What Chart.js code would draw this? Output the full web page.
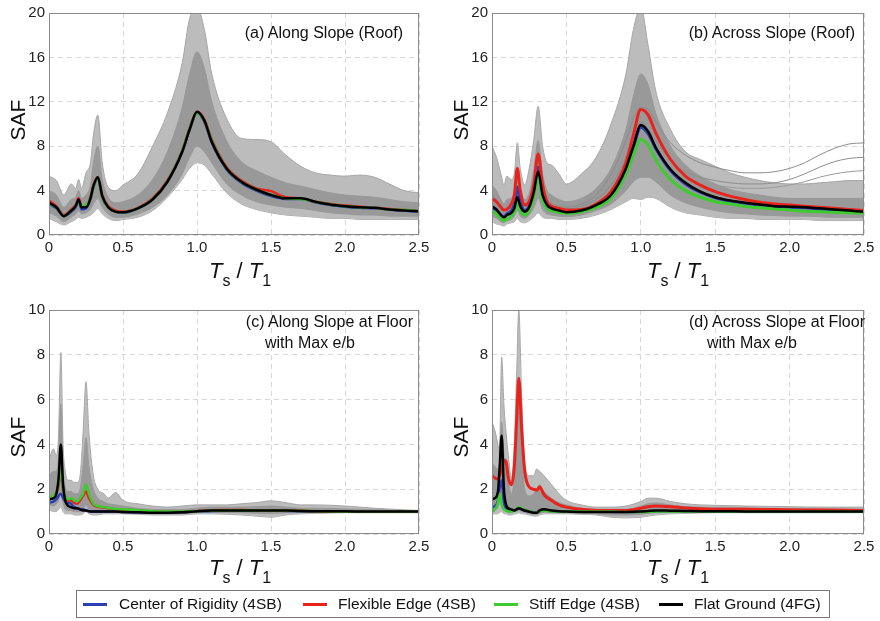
<!DOCTYPE html>
<html>
<head>
<meta charset="utf-8">
<script src="https://cdn.jsdelivr.net/npm/chart.js@4.4.1/dist/chart.umd.min.js"></script>
<style>
body {margin: 0; background: #fff; width: 880px; height: 621px; position: relative; overflow: hidden; font-family: "Liberation Sans", Arial, sans-serif;}
canvas {position: absolute;}
.lbl {position: absolute; color: #111; white-space: nowrap; font-size: 16px; line-height: 18px;}
.saf {position: absolute; font-size: 21px; transform: rotate(-90deg); transform-origin: center; width: 60px; text-align: center; line-height: 24px; color: #111;}
.xt {position: absolute; font-size: 22px; width: 120px; text-align: center; line-height: 24px; color: #111;}
.xt i {font-style: italic;}
.xt sub {font-size: 16px; vertical-align: -8px; line-height: 0;}
#legend {position: absolute; left: 76px; top: 590px; width: 752px; height: 26px; border: 1px solid #777; font-size: 15.5px; color: #111;}
#legend .sw {position: absolute; top: 12px; height: 3px; width: 24px;}
#legend .tx {position: absolute; top: 4px; white-space: nowrap;}
</style>
</head>
<body>

<canvas id="panelA" width="440" height="262" style="left:0;top:0"></canvas>
<canvas id="panelB" width="440" height="262" style="left:440px;top:0"></canvas>
<canvas id="panelC" width="440" height="264" style="left:0;top:297px"></canvas>
<canvas id="panelD" width="440" height="264" style="left:440px;top:297px"></canvas>

<div class="lbl" style="right:477px;top:24px">(a) Along Slope (Roof)</div>
<div class="lbl" style="right:25px;top:24px">(b) Across Slope (Roof)</div>
<div class="lbl" style="right:467px;top:313px">(c) Along Slope at Floor</div>
<div class="lbl" style="left:265px;top:334px">with Max e/b</div>
<div class="lbl" style="right:15px;top:313px">(d) Across Slope at Floor</div>
<div class="lbl" style="left:707px;top:334px">with Max e/b</div>

<div class="saf" style="left:-12px;top:108px">SAF</div>
<div class="saf" style="left:431px;top:108px">SAF</div>
<div class="saf" style="left:-12px;top:425px">SAF</div>
<div class="saf" style="left:431px;top:425px">SAF</div>

<div class="xt" style="left:180px;top:259px"><i>T</i><sub>s</sub> / <i>T</i><sub>1</sub></div>
<div class="xt" style="left:618px;top:259px"><i>T</i><sub>s</sub> / <i>T</i><sub>1</sub></div>
<div class="xt" style="left:180px;top:556px"><i>T</i><sub>s</sub> / <i>T</i><sub>1</sub></div>
<div class="xt" style="left:618px;top:556px"><i>T</i><sub>s</sub> / <i>T</i><sub>1</sub></div>

<div id="legend">
	<div class="sw" style="left:6px;background:#2b3fb5"></div><div class="tx" style="left:42px">Center of Rigidity (4SB)</div>
	<div class="sw" style="left:226px;background:#e8231c"></div><div class="tx" style="left:261px">Flexible Edge (4SB)</div>
	<div class="sw" style="left:417px;background:#3ccc2e"></div><div class="tx" style="left:452px">Stiff Edge (4SB)</div>
	<div class="sw" style="left:582px;background:#000"></div><div class="tx" style="left:617px">Flat Ground (4FG)</div>
</div>

<script>
// ---- (a) Along Slope (Roof) ----
var xA = [0, 0.05, 0.1, 0.15, 0.18, 0.2, 0.22, 0.25, 0.28, 0.3, 0.33, 0.36, 0.4, 0.45, 0.5, 0.6, 0.7, 0.8, 0.9, 0.95, 1.0, 1.05, 1.1, 1.2, 1.3, 1.4, 1.5, 1.6, 1.7, 1.8, 1.9, 2.0, 2.1, 2.2, 2.3, 2.4, 2.5];
var blackA = [2.9, 2.5, 1.7, 2.2, 2.6, 3.2, 2.5, 2.5, 3.3, 4.4, 5.2, 3.5, 2.5, 2.1, 2.05, 2.4, 3.2, 4.8, 7.5, 9.5, 11.1, 10.3, 8.4, 6.0, 4.8, 4.1, 3.6, 3.3, 3.3, 3.0, 2.75, 2.6, 2.5, 2.45, 2.3, 2.2, 2.15];
var redA = [3.1, 2.6, 1.8, 2.3, 2.7, 3.3, 2.6, 2.6, 3.4, 4.5, 5.2, 3.6, 2.6, 2.2, 2.1, 2.45, 3.3, 4.9, 7.6, 9.6, 11.1, 10.4, 8.6, 6.1, 4.9, 4.2, 3.95, 3.4, 3.3, 3.0, 2.8, 2.65, 2.55, 2.45, 2.35, 2.25, 2.15];
var greenA = [2.8, 2.5, 1.7, 2.2, 2.6, 3.1, 2.6, 2.7, 3.3, 4.3, 5.1, 3.4, 2.5, 2.1, 2.05, 2.4, 3.2, 4.8, 7.6, 9.6, 11.0, 10.3, 8.5, 6.0, 4.8, 4.1, 3.6, 3.3, 3.25, 3.0, 2.75, 2.6, 2.5, 2.45, 2.3, 2.25, 2.15];
var blueA = [2.8, 2.4, 1.7, 2.1, 2.5, 3.1, 2.3, 2.4, 3.2, 4.3, 5.1, 3.4, 2.5, 2.1, 2.0, 2.4, 3.2, 4.8, 7.5, 9.5, 11.0, 10.2, 8.3, 5.9, 4.7, 4.0, 3.5, 3.25, 3.25, 2.95, 2.7, 2.55, 2.45, 2.4, 2.3, 2.2, 2.1];
var hiA = [5.3, 4.9, 3.6, 4.6, 4.2, 5.0, 4.2, 5.6, 6.5, 9.0, 10.8, 6.5, 4.3, 4.0, 4.5, 5.5, 8.0, 11.0, 15.5, 19.5, 20.5, 18.5, 14.5, 10.5, 8.7, 8.6, 8.4, 7.2, 6.2, 5.6, 5.4, 5.3, 5.4, 5.2, 4.6, 4.0, 3.8];
var loA = [1.5, 1.2, 0.9, 1.2, 1.4, 1.6, 1.5, 1.6, 1.8, 2.0, 2.4, 1.9, 1.5, 1.3, 1.4, 1.6, 2.2, 3.4, 5.0, 6.0, 6.5, 6.3, 5.5, 3.8, 2.8, 2.3, 2.0, 1.8, 1.7, 1.6, 1.5, 1.5, 1.4, 1.4, 1.4, 1.4, 1.4];
var midHiA = [4.0, 3.6, 2.5, 3.2, 3.4, 4.0, 3.3, 3.6, 4.5, 6.5, 8.0, 5.0, 3.4, 2.9, 3.0, 3.6, 5.0, 7.5, 11.5, 14.5, 16.5, 15.0, 12.0, 8.5, 6.6, 5.8, 5.2, 4.7, 4.4, 4.1, 3.8, 3.6, 3.5, 3.4, 3.2, 3.0, 2.9];
var midLoA = [2.0, 1.7, 1.2, 1.6, 1.9, 2.2, 1.9, 2.0, 2.3, 2.8, 3.3, 2.5, 1.9, 1.6, 1.6, 1.9, 2.5, 3.6, 5.5, 7.0, 8.0, 7.5, 6.5, 4.6, 3.6, 3.0, 2.7, 2.5, 2.4, 2.2, 2.0, 1.9, 1.8, 1.8, 1.7, 1.7, 1.7];

// ---- (b) Across Slope (Roof) ----
var xB = [0, 0.03, 0.06, 0.08, 0.1, 0.13, 0.15, 0.17, 0.19, 0.22, 0.25, 0.28, 0.31, 0.34, 0.37, 0.4, 0.45, 0.5, 0.6, 0.7, 0.8, 0.9, 0.95, 1.0, 1.05, 1.1, 1.2, 1.3, 1.4, 1.5, 1.6, 1.7, 1.8, 1.9, 2.0, 2.1, 2.2, 2.3, 2.4, 2.5];
var redB = [3.3, 3.0, 2.5, 2.25, 2.3, 2.8, 3.6, 6.0, 4.0, 2.7, 3.0, 4.5, 7.3, 4.5, 3.0, 2.6, 2.4, 2.25, 2.3, 2.8, 3.9, 6.5, 9.0, 11.3, 10.8, 9.2, 6.8, 5.3, 4.5, 3.9, 3.5, 3.2, 2.95, 2.8, 2.7, 2.6, 2.5, 2.4, 2.3, 2.2];
var blackB = [2.6, 2.3, 1.8, 1.6, 1.8, 2.0, 2.4, 3.4, 2.6, 2.1, 2.5, 3.8, 5.7, 3.6, 2.7, 2.4, 2.2, 2.05, 2.2, 2.7, 3.6, 6.0, 8.0, 9.9, 9.3, 7.9, 5.9, 4.7, 3.9, 3.4, 3.1, 2.9, 2.75, 2.6, 2.55, 2.5, 2.4, 2.3, 2.2, 2.1];
var blueB = [2.5, 2.2, 1.8, 1.65, 1.9, 2.2, 2.8, 4.3, 3.0, 2.2, 2.6, 4.1, 6.1, 3.8, 2.8, 2.4, 2.2, 2.05, 2.2, 2.7, 3.6, 5.9, 7.9, 9.7, 9.1, 7.8, 5.8, 4.6, 3.85, 3.35, 3.05, 2.85, 2.7, 2.6, 2.5, 2.45, 2.35, 2.25, 2.15, 2.05];
var greenB = [2.2, 1.9, 1.5, 1.3, 1.4, 1.7, 2.1, 3.0, 2.2, 1.8, 2.2, 3.4, 5.2, 3.2, 2.4, 2.2, 2.05, 1.95, 2.1, 2.5, 3.3, 5.5, 7.2, 8.6, 8.1, 6.8, 5.0, 4.0, 3.4, 3.0, 2.8, 2.6, 2.45, 2.35, 2.25, 2.15, 2.1, 2.05, 2.0, 1.95];
var hiB = [8.0, 7.0, 5.5, 4.5, 5.3, 5.0, 5.5, 8.3, 6.0, 4.5, 6.0, 8.5, 11.6, 8.0, 6.5, 6.3, 5.5, 4.6, 5.5, 7.0, 10.0, 14.5, 18.5, 20.5, 17.0, 13.0, 9.5, 7.5, 6.8, 6.2, 5.6, 5.2, 4.9, 4.7, 4.6, 4.6, 4.7, 4.8, 4.9, 4.9];
var loB = [1.2, 1.0, 0.9, 0.8, 1.0, 1.1, 1.2, 1.5, 1.2, 1.1, 1.3, 1.6, 2.0, 1.6, 1.5, 1.5, 1.4, 1.4, 1.5, 1.8, 2.3, 3.0, 3.3, 3.2, 3.4, 3.3, 2.5, 2.0, 1.8, 1.6, 1.5, 1.5, 1.4, 1.4, 1.4, 1.4, 1.3, 1.3, 1.3, 1.3];
var midHiB = [4.5, 4.0, 3.2, 2.8, 3.2, 3.3, 4.0, 6.0, 4.2, 3.2, 3.8, 5.8, 8.5, 5.5, 4.0, 3.6, 3.2, 3.0, 3.3, 4.2, 6.0, 9.5, 12.5, 14.5, 13.5, 11.0, 8.0, 6.3, 5.3, 4.6, 4.1, 3.8, 3.6, 3.4, 3.3, 3.3, 3.3, 3.3, 3.3, 3.3];
var midLoB = [1.7, 1.5, 1.2, 1.1, 1.3, 1.4, 1.7, 2.2, 1.7, 1.5, 1.8, 2.4, 3.3, 2.3, 1.9, 1.8, 1.7, 1.65, 1.8, 2.2, 2.8, 4.0, 4.8, 5.2, 5.2, 4.8, 3.6, 2.9, 2.5, 2.2, 2.0, 1.9, 1.8, 1.75, 1.7, 1.7, 1.65, 1.6, 1.6, 1.6];
var outB1 = [3.5, 3.2, 2.6, 2.3, 2.5, 2.7, 3.2, 4.5, 3.2, 2.6, 3.0, 4.5, 6.5, 4.4, 3.2, 2.9, 2.6, 2.5, 2.8, 3.6, 5.5, 8.5, 10.5, 11.5, 11.3, 10.2, 8.3, 7.2, 6.5, 6.1, 5.8, 5.6, 5.6, 5.7, 6.0, 6.5, 7.2, 7.8, 8.2, 8.3];
var outB2 = [2.8, 2.5, 2.1, 1.9, 2.0, 2.3, 2.8, 4.0, 2.8, 2.3, 2.6, 4.0, 6.0, 3.8, 2.9, 2.6, 2.4, 2.3, 2.6, 3.2, 4.5, 7.0, 9.0, 10.2, 9.5, 8.5, 6.7, 5.7, 5.2, 4.9, 4.7, 4.6, 4.6, 4.7, 5.0, 5.5, 6.1, 6.6, 6.9, 7.0];
var outB3 = [3.0, 2.7, 2.2, 2.0, 2.1, 2.4, 3.0, 4.2, 3.0, 2.4, 2.8, 4.2, 6.3, 4.0, 3.0, 2.7, 2.5, 2.4, 2.7, 3.4, 4.8, 7.5, 9.5, 10.8, 10.0, 8.8, 6.9, 5.6, 4.9, 4.5, 4.3, 4.2, 4.2, 4.3, 4.5, 4.8, 5.2, 5.5, 5.7, 5.8];

// ---- (c) Along Slope at Floor ----
var xC = [0, 0.03, 0.05, 0.065, 0.08, 0.095, 0.11, 0.13, 0.15, 0.17, 0.19, 0.21, 0.23, 0.25, 0.27, 0.3, 0.33, 0.37, 0.4, 0.45, 0.5, 0.6, 0.7, 0.8, 0.9, 1.0, 1.1, 1.2, 1.3, 1.4, 1.5, 1.6, 1.7, 1.8, 2.0, 2.2, 2.5];
var blackC = [1.55, 1.6, 1.8, 2.5, 4.0, 2.2, 1.5, 1.25, 1.2, 1.15, 1.15, 1.1, 1.05, 1.05, 1.02, 1.0, 1.0, 1.0, 1.0, 1.0, 0.98, 0.97, 0.95, 0.95, 0.97, 1.02, 1.05, 1.05, 1.05, 1.05, 1.05, 1.05, 1.03, 1.02, 1.02, 1.0, 1.0];
var greenC = [1.6, 1.7, 1.9, 2.3, 2.9, 2.0, 1.7, 1.55, 1.6, 1.5, 1.45, 1.6, 1.8, 2.2, 1.8, 1.35, 1.25, 1.2, 1.17, 1.12, 1.1, 1.06, 1.02, 1.0, 1.0, 1.02, 1.04, 1.05, 1.05, 1.05, 1.05, 1.04, 1.03, 1.02, 1.0, 1.0, 1.0];
var redC = [1.6, 1.65, 1.85, 2.2, 2.8, 1.95, 1.65, 1.5, 1.5, 1.4, 1.35, 1.5, 1.7, 1.9, 1.6, 1.3, 1.22, 1.18, 1.15, 1.1, 1.08, 1.05, 1.0, 0.98, 0.98, 1.02, 1.06, 1.07, 1.07, 1.06, 1.06, 1.05, 1.04, 1.02, 1.0, 1.0, 1.0];
var blueC = [1.4, 1.45, 1.55, 1.7, 1.8, 1.6, 1.45, 1.4, 1.35, 1.2, 1.15, 1.1, 1.1, 1.05, 1.02, 1.0, 1.0, 1.0, 1.0, 1.0, 0.98, 0.97, 0.95, 0.95, 0.97, 1.0, 1.03, 1.04, 1.04, 1.04, 1.04, 1.03, 1.02, 1.02, 1.0, 1.0, 1.0];
var hiC = [3.3, 3.8, 3.5, 4.5, 8.1, 4.0, 2.8, 2.4, 2.4, 2.3, 2.3, 2.6, 4.5, 6.8, 4.5, 2.6, 2.0, 1.8, 1.6, 1.85, 1.5, 1.35, 1.25, 1.2, 1.25, 1.3, 1.3, 1.3, 1.35, 1.4, 1.48, 1.4, 1.3, 1.3, 1.25, 1.15, 1.05];
var loC = [1.1, 1.0, 1.0, 1.1, 1.2, 1.0, 0.9, 0.9, 0.9, 0.85, 0.85, 0.85, 0.9, 1.0, 0.9, 0.85, 0.85, 0.9, 0.9, 0.9, 0.9, 0.88, 0.85, 0.85, 0.85, 0.9, 0.9, 0.88, 0.85, 0.8, 0.75, 0.85, 0.9, 0.92, 0.95, 0.95, 0.95];
var midHiC = [2.6, 2.8, 2.8, 3.5, 5.8, 3.0, 2.1, 1.9, 1.9, 1.8, 1.8, 2.0, 3.0, 4.3, 3.0, 2.0, 1.6, 1.45, 1.35, 1.3, 1.25, 1.15, 1.1, 1.1, 1.1, 1.15, 1.2, 1.2, 1.2, 1.22, 1.25, 1.2, 1.15, 1.15, 1.12, 1.08, 1.03];
var midLoC = [1.3, 1.25, 1.35, 1.5, 2.0, 1.4, 1.1, 1.05, 1.05, 1.0, 1.0, 1.0, 1.1, 1.3, 1.1, 1.0, 0.97, 0.97, 0.97, 0.96, 0.95, 0.93, 0.9, 0.9, 0.92, 0.95, 0.97, 0.96, 0.95, 0.93, 0.92, 0.95, 0.96, 0.97, 0.98, 0.98, 0.98];

// ---- (d) Across Slope at Floor ----
var xD = [0, 0.02, 0.04, 0.05, 0.065, 0.08, 0.095, 0.11, 0.13, 0.15, 0.165, 0.18, 0.2, 0.22, 0.25, 0.28, 0.3, 0.32, 0.35, 0.4, 0.45, 0.5, 0.6, 0.7, 0.8, 0.9, 1.0, 1.05, 1.1, 1.2, 1.3, 1.4, 1.5, 1.7, 2.0, 2.2, 2.5];
var redD = [2.6, 2.5, 2.45, 2.6, 2.9, 3.3, 3.2, 2.5, 2.2, 3.0, 5.0, 6.95, 4.6, 2.8, 2.1, 2.0, 1.95, 2.1, 1.75, 1.5, 1.3, 1.2, 1.1, 1.05, 1.05, 1.05, 1.15, 1.22, 1.25, 1.22, 1.16, 1.13, 1.1, 1.1, 1.08, 1.07, 1.05];
var blackD = [1.55, 1.6, 1.9, 2.8, 4.4, 2.0, 1.3, 1.15, 1.1, 1.05, 1.1, 1.15, 1.1, 1.05, 1.0, 0.95, 0.95, 1.05, 1.1, 1.05, 1.02, 1.0, 0.98, 0.98, 0.98, 0.98, 1.0, 1.03, 1.05, 1.04, 1.03, 1.02, 1.02, 1.01, 1.0, 1.0, 1.0];
var greenD = [1.0, 1.1, 1.4, 1.8, 1.3, 1.1, 1.05, 1.0, 1.0, 1.05, 1.1, 1.2, 1.12, 1.08, 1.02, 0.95, 0.97, 1.0, 1.05, 1.0, 1.0, 1.0, 1.0, 1.0, 1.0, 0.98, 0.98, 0.99, 1.0, 1.0, 1.0, 1.0, 1.0, 1.0, 1.0, 1.0, 1.0];
var blueD = [1.2, 1.25, 1.5, 2.0, 2.4, 1.4, 1.15, 1.05, 1.05, 1.05, 1.1, 1.15, 1.1, 1.05, 1.0, 0.95, 0.96, 1.02, 1.07, 1.02, 1.0, 1.0, 0.99, 0.99, 0.99, 0.98, 0.99, 1.01, 1.02, 1.02, 1.02, 1.01, 1.01, 1.0, 1.0, 1.0, 1.0];
var hiD = [5.0, 4.6, 4.0, 3.6, 7.9, 5.8, 4.5, 3.5, 2.5, 4.0, 7.0, 10.0, 6.0, 3.2, 2.6, 2.6, 2.9, 2.8, 2.6, 2.2, 1.8, 1.5, 1.3, 1.2, 1.2, 1.25, 1.45, 1.6, 1.6, 1.45, 1.35, 1.3, 1.28, 1.25, 1.22, 1.2, 1.2];
var loD = [0.9, 0.9, 0.9, 0.95, 1.0, 0.9, 0.9, 0.85, 0.85, 0.9, 0.9, 0.95, 0.9, 0.9, 0.85, 0.8, 0.8, 0.85, 0.9, 0.9, 0.9, 0.9, 0.88, 0.85, 0.75, 0.72, 0.75, 0.8, 0.85, 0.9, 0.92, 0.94, 0.95, 0.95, 0.95, 0.95, 0.95];
var midHiD = [3.2, 3.0, 2.9, 3.0, 5.0, 3.6, 2.8, 2.3, 1.8, 2.5, 4.0, 6.5, 3.8, 2.0, 1.7, 1.8, 2.0, 2.2, 1.9, 1.6, 1.4, 1.3, 1.15, 1.1, 1.1, 1.1, 1.25, 1.35, 1.38, 1.3, 1.22, 1.2, 1.18, 1.16, 1.13, 1.12, 1.1];
var midLoD = [1.1, 1.1, 1.2, 1.4, 1.6, 1.1, 1.0, 0.95, 0.95, 1.0, 1.0, 1.05, 1.0, 0.95, 0.92, 0.88, 0.88, 0.92, 0.98, 0.96, 0.95, 0.95, 0.93, 0.9, 0.85, 0.85, 0.88, 0.92, 0.95, 0.97, 0.98, 0.98, 0.98, 0.98, 0.98, 0.98, 0.98];

var colors = {blue: '#2b3fb5', red: '#e8231c', green: '#3ccc2e', black: '#000000'};

function pts(xs, ys)
{
	return xs.map(function (x, i) {return {x: x, y: ys[i]}});
}

function line(xs, ys, color, width, order)
{
	return {data: pts(xs, ys), borderColor: color, borderWidth: width, pointRadius: 0, fill: false, order: order, cubicInterpolationMode: 'monotone'};
}

function band(xs, hi, lo, color, edge, order)
{
	return [
		{data: pts(xs, hi), borderColor: edge, borderWidth: 1, backgroundColor: color, pointRadius: 0, fill: '+1', order: order, cubicInterpolationMode: 'monotone'},
		{data: pts(xs, lo), borderColor: edge, borderWidth: 1, pointRadius: 0, fill: false, order: order, cubicInterpolationMode: 'monotone'}
	];
}

var boxPlugin =
{
	id: 'box',
	afterDraw: function (chart)
	{
		var a = chart.chartArea, ctx = chart.ctx;
		ctx.save();
		ctx.strokeStyle = '#8a8a8a';
		ctx.lineWidth = 1;
		ctx.strokeRect(Math.round(a.left) + 0.5, Math.round(a.top) + 0.5, Math.round(a.width) - 1, Math.round(a.height) - 1);
		ctx.restore();
	}
};

function panel(id, datasets, yMax, yStep, left, right)
{
	new Chart(document.getElementById(id),
	{
		type: 'line',
		data: {datasets: datasets},
		options:
		{
			responsive: false,
			animation: false,
			layout: {padding: {left: 0, top: 11, right: right, bottom: 0}},
			plugins: {legend: {display: false}, tooltip: {enabled: false}},
			scales:
			{
				x:
				{
					type: 'linear', min: 0, max: 2.5,
					ticks: {stepSize: 0.5, color: '#222', font: {family: 'Liberation Sans', size: 15}, padding: 4, maxRotation: 0},
					grid: {color: '#d8d8d8', drawTicks: false},
					border: {display: false, dash: [5, 4]},
					afterFit: function (s) {s.height = 27}
				},
				y:
				{
					min: 0, max: yMax,
					ticks: {stepSize: yStep, color: '#222', font: {family: 'Liberation Sans', size: 15}, padding: 4},
					grid: {color: '#d8d8d8', drawTicks: false},
					border: {display: false, dash: [5, 4]},
					afterFit: function (s) {s.width = left}
				}
			}
		},
		plugins: [boxPlugin]
	});
}

var light = '#bcbcbc', dark = '#999999', edge = '#a6a6a6';

panel('panelA', [].concat(
	line(xA, blackA, colors.black, 2.5, 0),
	line(xA, greenA, colors.green, 2.5, 1),
	line(xA, redA, colors.red, 2.5, 2),
	line(xA, blueA, colors.blue, 2.5, 3),
	band(xA, midHiA, midLoA, dark, dark, 5),
	band(xA, hiA, loA, light, edge, 6)
), 20, 4, 49, 21);

panel('panelB', [].concat(
	line(xB, blackB, colors.black, 2.5, 0),
	line(xB, greenB, colors.green, 3, 1),
	line(xB, redB, colors.red, 3, 2),
	line(xB, blueB, colors.blue, 3, 3),
	band(xB, midHiB, midLoB, dark, dark, 5),
	line(xB, outB1, '#8c8c8c', 1, 4),
	line(xB, outB2, '#8c8c8c', 1, 4),
	line(xB, outB3, '#9a9a9a', 1, 4),
	band(xB, hiB, loB, light, edge, 6)
), 20, 4, 52, 16);

panel('panelC', [].concat(
	line(xC, blackC, colors.black, 2.5, 0),
	line(xC, greenC, colors.green, 2.5, 1),
	line(xC, redC, colors.red, 2.5, 2),
	line(xC, blueC, colors.blue, 2.5, 3),
	band(xC, midHiC, midLoC, dark, dark, 5),
	band(xC, hiC, loC, light, edge, 6)
), 10, 2, 49, 21);

panel('panelD', [].concat(
	line(xD, blackD, colors.black, 2.5, 0),
	line(xD, greenD, colors.green, 2.5, 1),
	line(xD, redD, colors.red, 3, 2),
	line(xD, blueD, colors.blue, 2.5, 3),
	band(xD, midHiD, midLoD, dark, dark, 5),
	band(xD, hiD, loD, light, edge, 6)
), 10, 2, 52, 16);
</script>
</body>
</html>
